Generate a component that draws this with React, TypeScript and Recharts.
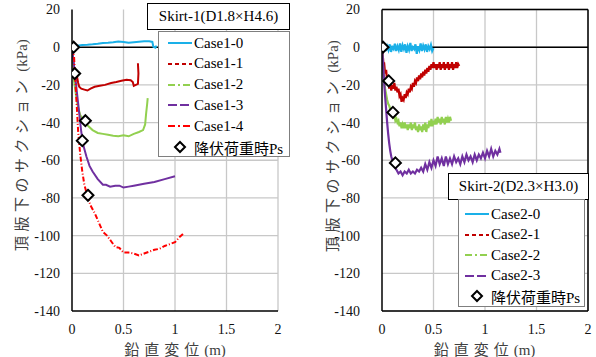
import React from "react";
import { LineChart, Line, XAxis, YAxis, CartesianGrid, ReferenceLine } from "recharts";

type Pt = [number, number];

// Skirt-1 (left chart)
const case10: Pt[] = [[0,0],[0.02,0.5],[0.05,0.8],[0.1,1.2],[0.15,1.3],[0.2,1.5],[0.25,1.8],[0.3,2.2],[0.35,2.3],[0.4,2.6],[0.45,3],[0.5,2.8],[0.55,2.3],[0.6,2.6],[0.65,2.9],[0.7,3.1],[0.75,3.2],[0.78,2.8],[0.79,0.2],[0.81,-0.3],[0.82,0.8]];
const case11: Pt[] = [[0,0],[0.01,-5],[0.02,-12],[0.03,-15],[0.04,-17],[0.05,-16],[0.06,-19],[0.07,-21],[0.09,-22],[0.12,-22.5],[0.15,-23],[0.18,-22],[0.22,-21],[0.27,-20.5],[0.32,-20],[0.38,-19],[0.43,-18.5],[0.48,-17.8],[0.53,-17.3],[0.57,-17.5],[0.59,-18.5],[0.6,-20.5],[0.62,-20],[0.64,-19.5],[0.645,-14],[0.64,-8.5]];
const case12: Pt[] = [[0,0],[0.01,-8],[0.02,-18],[0.04,-26],[0.06,-32],[0.08,-36],[0.1,-38],[0.13,-40],[0.16,-42],[0.2,-44],[0.25,-45.5],[0.3,-46],[0.35,-46.5],[0.4,-47],[0.45,-47.2],[0.5,-46.8],[0.55,-47.3],[0.6,-46],[0.65,-45],[0.69,-44],[0.71,-41],[0.72,-35],[0.73,-30],[0.735,-27]];
const case13: Pt[] = [[0,0],[0.01,-5],[0.03,-15],[0.05,-25],[0.07,-35],[0.09,-45],[0.11,-52],[0.14,-58],[0.17,-63],[0.2,-66],[0.25,-70],[0.3,-73],[0.33,-73],[0.37,-74],[0.42,-73.5],[0.46,-73.5],[0.5,-74.5],[0.55,-74],[0.6,-73.5],[0.7,-72.5],[0.8,-71.5],[0.9,-70],[1.0,-68.5]];
const case14: Pt[] = [[0,0],[0.02,-5],[0.03,-15],[0.04,-25],[0.05,-35],[0.06,-45],[0.08,-57],[0.1,-66],[0.12,-73],[0.15,-79],[0.18,-84],[0.22,-88],[0.26,-93],[0.3,-98],[0.34,-100],[0.38,-103],[0.42,-106],[0.46,-106.5],[0.5,-109],[0.55,-109],[0.6,-109.5],[0.65,-110.5],[0.7,-109.5],[0.75,-108.5],[0.8,-107.5],[0.85,-107],[0.9,-105.5],[0.95,-104.5],[1.0,-103.5],[1.04,-101],[1.08,-99]];
const yield1: Pt[] = [[0.016,0],[0.026,-14],[0.13,-39],[0.1,-49.6],[0.155,-78.6]];

// Skirt-2 (right chart)
const case20: Pt[] = [[0,0],[0.0125,-1],[0.025,1],[0.0375,-2],[0.05,0.5],[0.0625,-1.5],[0.075,1.5],[0.0875,-2.5],[0.1,0],[0.1125,-1],[0.125,1.8],[0.1375,-2],[0.15,0.5],[0.1625,-1.5],[0.175,2],[0.1875,-2.5],[0.2,1],[0.2125,-1],[0.225,1.5],[0.2375,-3],[0.25,0.5],[0.2625,-1.5],[0.275,2.2],[0.2875,-2],[0.3,0],[0.3125,-1],[0.325,1.5],[0.3375,-3.5],[0.35,0.5],[0.3625,-1.5],[0.375,2],[0.3875,-2],[0.4,0.8],[0.4125,-1.2],[0.425,1.5],[0.4375,-2.5],[0.45,0.5],[0.4625,-1],[0.475,1.2],[0.4875,-2],[0.5,-0.5]];
const case21: Pt[] = [[0,0],[0.01,-6],[0.015,-10],[0.02,-8],[0.03,-14],[0.04,-12],[0.05,-18],[0.06,-16],[0.07,-22],[0.08,-19],[0.09,-23],[0.1,-20],[0.11,-22],[0.12,-19],[0.13,-23],[0.14,-21],[0.15,-24],[0.16,-22],[0.17,-26],[0.18,-25],[0.19,-29],[0.2,-27],[0.21,-28],[0.22,-25],[0.23,-27],[0.24,-24],[0.25,-25],[0.26,-22],[0.27,-24],[0.28,-21],[0.29,-22],[0.3,-19],[0.31,-21],[0.32,-18],[0.33,-19],[0.34,-16],[0.35,-18],[0.36,-15],[0.37,-17],[0.38,-14],[0.39,-16],[0.4,-13],[0.41,-15],[0.42,-12],[0.43,-14],[0.44,-11],[0.45,-13],[0.46,-10],[0.47,-12],[0.48,-9],[0.49,-11],[0.5,-8],[0.51,-11],[0.52,-9],[0.53,-12],[0.54,-9],[0.55,-11],[0.56,-8],[0.57,-12],[0.58,-9],[0.59,-11],[0.6,-8],[0.61,-12],[0.62,-9],[0.63,-11],[0.64,-8],[0.65,-12],[0.66,-9],[0.67,-11],[0.68,-8],[0.69,-12],[0.7,-9],[0.71,-11],[0.72,-8],[0.73,-11],[0.74,-9],[0.75,-10]];
const case22: Pt[] = [[0,0],[0.01,-10],[0.02,-18],[0.03,-22],[0.04,-25],[0.05,-28],[0.06,-30],[0.07,-31],[0.08,-33],[0.09,-34],[0.1,-35],[0.11,-37],[0.12,-36],[0.13,-39],[0.14,-38],[0.15,-40],[0.16,-39],[0.17,-42],[0.18,-40],[0.19,-43],[0.2,-41],[0.21,-43],[0.22,-40],[0.23,-43],[0.24,-41],[0.25,-44],[0.26,-41],[0.27,-43],[0.28,-40],[0.29,-44],[0.3,-41],[0.31,-43],[0.32,-40],[0.33,-44],[0.34,-42],[0.35,-45],[0.36,-41],[0.37,-44],[0.38,-42],[0.39,-45],[0.4,-41],[0.41,-44],[0.42,-40],[0.43,-45],[0.44,-41],[0.45,-43],[0.46,-39],[0.47,-42],[0.48,-38],[0.49,-42],[0.5,-39],[0.51,-41],[0.52,-38],[0.53,-41],[0.54,-37],[0.55,-40],[0.56,-38],[0.57,-41],[0.58,-37],[0.59,-40],[0.6,-38],[0.61,-41],[0.62,-37],[0.63,-40],[0.64,-38],[0.65,-40],[0.66,-37],[0.67,-39]];
const case23: Pt[] = [[0,0],[0.01,-8],[0.02,-18],[0.03,-26],[0.04,-33],[0.05,-40],[0.06,-46],[0.07,-51],[0.08,-55],[0.09,-58],[0.1,-60],[0.12,-63],[0.14,-65],[0.16,-67],[0.18,-66],[0.2,-68],[0.22,-66],[0.24,-67],[0.26,-65],[0.28,-67],[0.3,-66],[0.32,-67],[0.34,-65],[0.36,-66],[0.38,-64],[0.4,-66],[0.42,-62],[0.44,-65],[0.46,-61],[0.48,-64],[0.5,-60],[0.52,-63],[0.54,-58],[0.56,-62],[0.58,-59],[0.6,-63],[0.62,-58],[0.64,-62],[0.66,-59],[0.68,-62],[0.7,-58],[0.72,-61],[0.74,-59],[0.76,-62],[0.78,-58],[0.8,-61],[0.82,-57],[0.84,-60],[0.86,-58],[0.88,-61],[0.9,-57],[0.92,-60],[0.94,-57],[0.96,-59],[0.98,-56],[1.0,-59],[1.02,-55],[1.04,-58],[1.06,-54],[1.08,-58],[1.1,-55],[1.12,-57],[1.14,-54],[1.15,-56]];
const yield2: Pt[] = [[0.01,0],[0.065,-17.9],[0.106,-34.6],[0.13,-61.4]];

const xTicks = [0, 0.5, 1, 1.5, 2];
const yTicks = [20, 0, -20, -40, -60, -80, -100, -120, -140];
const xTitleJa = "鉛直変位";
const xTitleUnit = "(m)";
const yTitleJa = "頂版下のサクション";
const yTitleUnit = "(kPa)";
const yieldName = "降伏荷重時Ps";

const SERIF = "'Liberation Serif', 'Times New Roman', 'Noto Sans CJK JP', serif";

const toRows = (pts: Pt[]) => pts.map(([x, y]) => ({ x, y }));

const Diamond = (props: any) => {
  const { cx, cy, index } = props;
  if (cx == null || cy == null) return <g key={index} />;
  const r = 5.5;
  return (
    <path
      key={index}
      d={`M${cx},${cy - r}L${cx + r},${cy}L${cx},${cy + r}L${cx - r},${cy}Z`}
      fill="#fff"
      stroke="#000"
      strokeWidth={2}
    />
  );
};

type Series = { name: string; data: Pt[]; color: string; dash?: string; legendDash?: string; width?: number };

const LegendBox = ({ title, series, left, top, titleBox, box }: any) => (
  <>
    <div
      style={{
        position: "absolute",
        left: titleBox[0],
        top: titleBox[1],
        width: titleBox[2],
        height: titleBox[3],
        border: "1px solid #000",
        background: "#fff",
        boxSizing: "border-box",
        fontFamily: SERIF,
        fontSize: 15,
        lineHeight: `${titleBox[3] - 2}px`,
        textAlign: "center",
        whiteSpace: "nowrap",
      }}
    >
      {title}
    </div>
    <div
      style={{
        position: "absolute",
        left: box[0],
        top: box[1],
        width: box[2],
        height: box[3],
        border: "1px solid #7f7f7f",
        background: "#fff",
        boxSizing: "border-box",
        fontFamily: SERIF,
        fontSize: 15,
      }}
    >
      {series.map((s: Series, i: number) => (
        <div key={s.name} style={{ position: "absolute", left: left, top: top + i * box[4], height: 20, display: "flex", alignItems: "center", whiteSpace: "nowrap" }}>
          <svg width={24} height={10} style={{ marginRight: 2 }}>
            <line x1={0} y1={5} x2={24} y2={5} stroke={s.color} strokeWidth={2} strokeDasharray={s.legendDash} />
          </svg>
          {s.name}
        </div>
      ))}
      <div style={{ position: "absolute", left: left, top: top + series.length * box[4], height: 20, display: "flex", alignItems: "center", whiteSpace: "nowrap" }}>
        <svg width={24} height={14} style={{ marginRight: 2 }}>
          <path d="M12,2L17,7L12,12L7,7Z" fill="#fff" stroke="#000" strokeWidth={2} />
        </svg>
        {yieldName}
      </div>
    </div>
  </>
);

const Panel = ({ series, markers, yAxisW, width, boxed, offsetX }: any) => (
  <div style={{ position: "absolute", left: offsetX, top: 0, width, height: 357 }}>
    <LineChart width={width} height={357} margin={{ top: 9.5, right: width - yAxisW - 206, bottom: 16, left: 0 }}>
      <CartesianGrid stroke="#c8c8c8" strokeWidth={1.3} horizontalValues={boxed ? undefined : [-20, -40, -60, -80, -100, -120]} verticalValues={[0.5, 1, 1.5, 2]} />
      <XAxis
        type="number"
        dataKey="x"
        domain={[0, 2]}
        ticks={xTicks}
        height={30}
        tickSize={0}
        tickMargin={13}
        axisLine={{ stroke: "#000", strokeWidth: 1.5 }}
        tick={{ fill: "#111", fontSize: 14, fontFamily: SERIF }}
        allowDataOverflow
      />
      <YAxis
        type="number"
        domain={[-140, 20]}
        ticks={yTicks}
        width={yAxisW}
        tickSize={0}
        tickMargin={yAxisW - 60}
        interval={0}
        axisLine={{ stroke: "#000", strokeWidth: 1.5 }}
        tick={{ fill: "#111", fontSize: 14, fontFamily: SERIF }}
        allowDataOverflow
      />
      <ReferenceLine y={0} stroke="#000" strokeWidth={1.5} />
      {boxed && <ReferenceLine y={20} stroke="#000" strokeWidth={1.5} />}
      {boxed && <ReferenceLine x={2} stroke="#000" strokeWidth={1.5} />}
      {series.map((s: Series) => (
        <Line
          key={s.name}
          data={toRows(s.data)}
          dataKey="y"
          type="linear"
          stroke={s.color}
          strokeWidth={s.width ?? 2}
          strokeDasharray={s.dash}
          dot={false}
          activeDot={false}
          isAnimationActive={false}
        />
      ))}
      <Line
        data={toRows(markers)}
        dataKey="y"
        stroke="none"
        dot={Diamond}
        activeDot={false}
        isAnimationActive={false}
      />
    </LineChart>
  </div>
);

const AxisTitles = ({ offsetX, yx, yc, xc }: any) => (
  <>
    <div
      style={{
        position: "absolute",
        left: offsetX + yx - 120,
        top: yc - 10,
        width: 240,
        height: 20,
        lineHeight: "20px",
        textAlign: "center",
        transform: "rotate(-90deg)",
        fontFamily: SERIF,
        fontSize: 15,
        color: "#404040",
        whiteSpace: "nowrap",
      }}
    >
      <span style={{ letterSpacing: 4.5 }}>{yTitleJa}</span> {yTitleUnit}
    </div>
    <div
      style={{
        position: "absolute",
        left: offsetX + xc - 70,
        top: 340,
        width: 140,
        height: 20,
        lineHeight: "20px",
        textAlign: "center",
        fontFamily: SERIF,
        fontSize: 15,
        color: "#404040",
        whiteSpace: "nowrap",
      }}
    >
      <span style={{ letterSpacing: 5 }}>{xTitleJa}</span>{xTitleUnit}
    </div>
  </>
);

const left: Series[] = [
  { name: "Case1-0", data: case10, color: "#1ab0e8", legendDash: undefined },
  { name: "Case1-1", data: case11, color: "#c00000", legendDash: "4 3" },
  { name: "Case1-2", data: case12, color: "#92d050", legendDash: "7 3 2 3" },
  { name: "Case1-3", data: case13, color: "#7030a0", legendDash: "9 3" },
  { name: "Case1-4", data: case14, color: "#ff0000", dash: "5 2 1 2", legendDash: "7 3 2 3" },
];

const right: Series[] = [
  { name: "Case2-0", data: case20, color: "#1ab0e8", width: 2.2 },
  { name: "Case2-1", data: case21, color: "#c00000", width: 2.2, legendDash: "4 3" },
  { name: "Case2-2", data: case22, color: "#92d050", width: 2.2, legendDash: "7 3 2 3" },
  { name: "Case2-3", data: case23, color: "#7030a0", width: 2.2, legendDash: "9 3" },
];

export default function App() {
  return (
    <div style={{ position: "absolute", left: 0, top: 0, width: 596, height: 357, background: "#fff", overflow: "hidden" }}>
      <Panel series={left} markers={yield1} yAxisW={72} width={300} boxed={false} offsetX={0} />
      <Panel series={right} markers={yield2} yAxisW={82} width={296} boxed={true} offsetX={300} />
      <AxisTitles offsetX={0} yx={22} yc={145} xc={175} />
      <AxisTitles offsetX={300} yx={33} yc={146} xc={184.5} />
      <LegendBox
        title="Skirt-1(D1.8×H4.6)"
        series={left}
        left={9}
        top={1}
        titleBox={[147, 3, 143, 27]}
        box={[158, 31, 132, 126, 20.8]}
      />
      <LegendBox
        title="Skirt-2(D2.3×H3.0)"
        series={right}
        left={6}
        top={4}
        titleBox={[448, 173, 141, 27]}
        box={[458, 199, 127, 108, 20.6]}
      />
    </div>
  );
}
